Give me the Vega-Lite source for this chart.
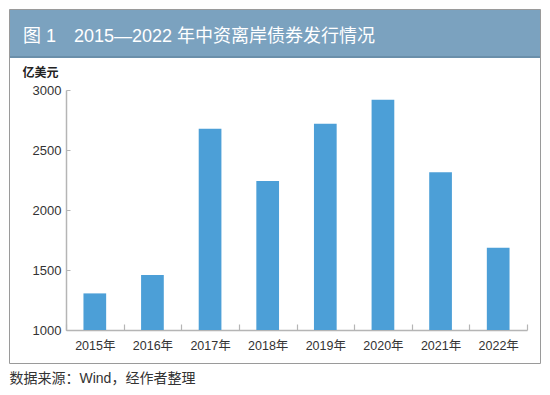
{
  "$schema": "https://vega.github.io/schema/vega-lite/v6.json",
  "autosize": "none",
  "width": 531,
  "height": 354,
  "padding": {"left": 9, "top": 9, "right": 10, "bottom": 32},
  "background": "white",
  "view": {
    "stroke": "#9a9a9a",
    "strokeWidth": 1,
    "fill": {
      "gradient": "linear",
      "x1": 0, "y1": 0, "x2": 0, "y2": 1,
      "stops": [
        {"offset": 0, "color": "#7BA2BF"},
        {"offset": 0.1325, "color": "#7BA2BF"},
        {"offset": 0.1326, "color": "#6A8FAA"},
        {"offset": 0.1356, "color": "#6A8FAA"},
        {"offset": 0.1357, "color": "#ffffff"},
        {"offset": 1, "color": "#ffffff"}
      ]
    }
  },
  "title": {
    "text": "图 1　2015—2022 年中资离岸债券发行情况",
    "anchor": "start",
    "frame": "group",
    "offset": -37,
    "dx": 14,
    "font": "Liberation Sans, Noto Sans CJK SC, sans-serif",
    "fontSize": 18,
    "fontWeight": "normal",
    "color": "#ffffff"
  },
  "data": {
    "values": [
      {"year": "2015年", "value": 1305},
      {"year": "2016年", "value": 1458},
      {"year": "2017年", "value": 2677},
      {"year": "2018年", "value": 2242},
      {"year": "2019年", "value": 2719},
      {"year": "2020年", "value": 2919},
      {"year": "2021年", "value": 2314},
      {"year": "2022年", "value": 1686}
    ]
  },
  "mark": {"type": "bar", "color": "#4C9FD7", "width": {"band": 0.394}},
  "encoding": {
    "x": {
      "field": "year",
      "type": "ordinal",
      "sort": null,
      "scale": {"range": [57, 518], "paddingInner": 0, "paddingOuter": 0},
      "axis": {
        "orient": "bottom",
        "offset": -33,
        "title": "数据来源：Wind，经作者整理",
        "titleX": 0,
        "titleY": 48,
        "titleAlign": "left",
        "titleBaseline": "middle",
        "titleFont": "Liberation Sans, Noto Sans CJK SC, sans-serif",
        "titleFontSize": 14,
        "titleFontWeight": "normal",
        "titleColor": "#333333",
        "labelAngle": 0,
        "labelFont": "Liberation Sans, Noto Sans CJK SC, sans-serif",
        "labelFontSize": 12.5,
        "labelColor": "#333333",
        "labelPadding": 15,
        "tickBand": "extent",
        "tickSize": -6,
        "tickColor": "#b5b5b5",
        "tickWidth": 1.2,
        "domainColor": "#b5b5b5",
        "domainWidth": 1.5,
        "grid": false
      }
    },
    "y": {
      "field": "value",
      "type": "quantitative",
      "scale": {"domain": [1000, 3000], "range": [321, 81], "zero": false, "nice": false},
      "axis": {
        "orient": "left",
        "offset": -57,
        "values": [1000, 1500, 2000, 2500, 3000],
        "format": "d",
        "title": "亿美元",
        "titleAngle": 0,
        "titleX": -8,
        "titleY": 63,
        "titleAlign": "right",
        "titleBaseline": "middle",
        "titleFont": "Noto Sans CJK SC, sans-serif",
        "titleFontSize": 12,
        "titleFontWeight": "bold",
        "titleColor": "#222222",
        "labelFont": "Liberation Sans, Noto Sans CJK SC, sans-serif",
        "labelFontSize": 13,
        "labelColor": "#333333",
        "labelPadding": 9,
        "tickSize": -4,
        "tickColor": "#b5b5b5",
        "domainColor": "#b5b5b5",
        "domainWidth": 1.5,
        "grid": false
      }
    },
    "y2": {"datum": 1000}
  }
}
